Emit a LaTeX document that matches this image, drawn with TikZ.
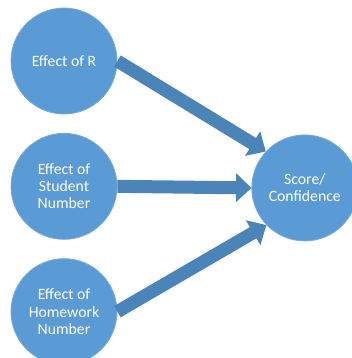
\documentclass[tikz,border=0pt]{standalone}
\usepackage{fontspec}
\setmainfont{Carlito}
\usepackage{tikz}
\usetikzlibrary{positioning, arrows.meta}
\definecolor{bolla}{HTML}{5B9BD5}
\definecolor{freccia}{HTML}{4A84B8}
\tikzset{arco/.style={line width=9.75pt, draw=freccia, -{Triangle[length=11.5pt, width=21pt]}}}
\tikzset{bolla/.style={circle, fill=bolla, draw=bolla!85!white, line width=0.6pt, minimum size=79.5pt, inner sep=0pt, text=white, align=center, font=\fontsize{11.8}{12.8}\selectfont}}

\begin{document}
\begin{tikzpicture}[
                scale = 1
            ]
                \clip (0,0) rectangle (264pt,-268.5pt);
                \node[bolla](r) at (48pt,-45.75pt) {Effect of R};
                \node[bolla, below= 13.9pt of r] (stud) {Effect of\\Student\\Number};
                \node[bolla, below= 13.9pt of stud] (hw) {Effect of\\Homework\\Number};
                \node[bolla, right= 100.5pt of stud, yshift=-1.2pt] (score) {Score/\\Confidence};

                \draw[arco] (r.east) to [] (score.137);
                \draw[arco] (stud.east) to [] (score.west);
                \draw[arco] (hw.east) to [] (score.224);
            \end{tikzpicture}
\end{document}
